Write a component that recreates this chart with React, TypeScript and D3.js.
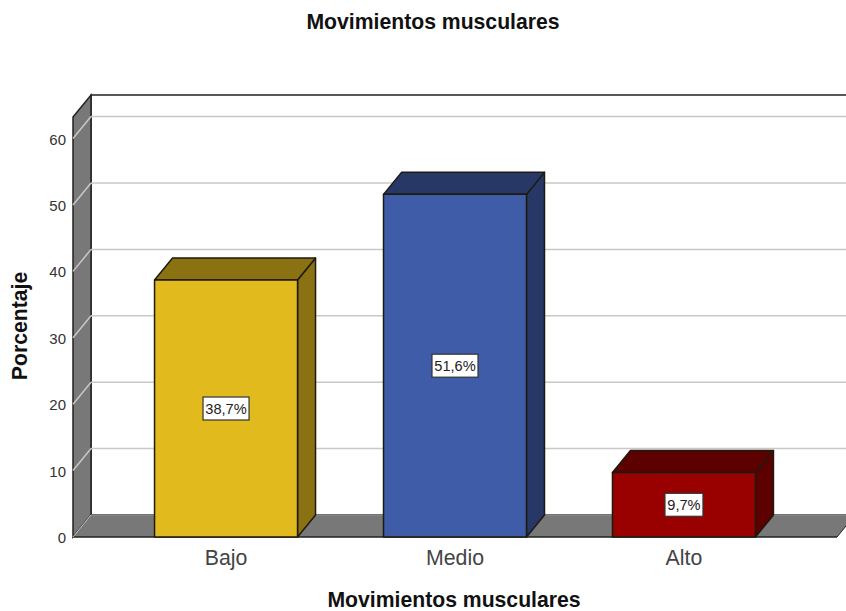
import { useRef, useEffect } from "react";
import * as d3 from "d3";

const categories = ["Bajo", "Medio", "Alto"];
const values = [38.7, 51.6, 9.7];
const valueLabels = ["38,7%", "51,6%", "9,7%"];
const yTicks = [0, 10, 20, 30, 40, 50, 60];
const frontColors = ["#e1bb1e", "#3f5ca8", "#990000"];
const sideColors = ["#8a7212", "#273866", "#5c0000"];

const FONT = "'Liberation Sans', Arial, sans-serif";
const WIDTH = 846;
const HEIGHT = 611;

export default function App() {
  const svgRef = useRef<SVGSVGElement>(null);

  useEffect(() => {
    if (!svgRef.current) return;
    const svg = d3.select(svgRef.current);
    svg.selectAll("*").remove();

    // depth of the fake 3D box
    const dx = 18;
    const dy = -22;
    const left = 73;
    const right = 837;

    const y = d3.scaleLinear().domain([0, 63.25]).range([537, 117]);
    const x = d3
      .scaleBand<string>()
      .domain(categories)
      .range([111.5, 798.5])
      .paddingInner(0.3755)
      .paddingOuter(0.188);

    const poly = (pts: [number, number][]) => `M${pts.join("L")}Z`;
    const y0 = y(0);
    const yTop = y(63.25);

    // Back wall
    svg.append("rect")
      .attr("x", left + dx)
      .attr("y", yTop + dy)
      .attr("width", WIDTH - left - dx + 5)
      .attr("height", y0 - yTop)
      .attr("fill", "#fff")
      .attr("stroke", "#222")
      .attr("stroke-width", 1.5);

    // Left wall
    svg.append("path")
      .attr("d", poly([[left, yTop], [left + dx, yTop + dy], [left + dx, y0 + dy], [left, y0]]))
      .attr("fill", "#787878")
      .attr("stroke", "#222")
      .attr("stroke-width", 1.5);

    // Floor
    svg.append("path")
      .attr("d", poly([[left, y0], [left + dx, y0 + dy], [right + dx, y0 + dy], [right, y0]]))
      .attr("fill", "#787878")
      .attr("stroke", "none");
    svg.append("line")
      .attr("x1", left + dx).attr("x2", WIDTH)
      .attr("y1", y0 + dy).attr("y2", y0 + dy)
      .attr("stroke", "#8f8f8f");
    svg.append("line")
      .attr("x1", left).attr("x2", right)
      .attr("y1", y0).attr("y2", y0)
      .attr("stroke", "#222")
      .attr("stroke-width", 1.5);
    svg.append("line")
      .attr("x1", right).attr("x2", right + dx)
      .attr("y1", y0).attr("y2", y0 + dy)
      .attr("stroke", "#222");

    // Grid
    const grid = svg.append("g").attr("fill", "none").attr("stroke", "#c8c8c8").attr("stroke-width", 1.5);
    yTicks.slice(1).forEach((t) => {
      grid.append("line")
        .attr("x1", left + dx).attr("x2", WIDTH)
        .attr("y1", y(t) + dy).attr("y2", y(t) + dy);
      grid.append("line")
        .attr("x1", left).attr("x2", left + dx)
        .attr("y1", y(t)).attr("y2", y(t) + dy);
    });
    svg.append("line")
      .attr("x1", left).attr("x2", left + dx)
      .attr("y1", y0).attr("y2", y0 + dy)
      .attr("stroke", "#c8c8c8");

    // Bars
    const bars = svg.selectAll("g.bar").data(values).join("g").attr("class", "bar")
      .attr("stroke", "#1f1a10")
      .attr("stroke-width", 1.5)
      .attr("stroke-linejoin", "round");

    bars.append("path")
      .attr("d", (d, i) => {
        const x1 = x(categories[i])! + x.bandwidth();
        return poly([[x1, y(d)], [x1 + dx, y(d) + dy], [x1 + dx, y0 + dy], [x1, y0]]);
      })
      .attr("fill", (_, i) => sideColors[i]);
    bars.append("path")
      .attr("d", (d, i) => {
        const x0 = x(categories[i])!;
        const x1 = x0 + x.bandwidth();
        return poly([[x0, y(d)], [x0 + dx, y(d) + dy], [x1 + dx, y(d) + dy], [x1, y(d)]]);
      })
      .attr("fill", (_, i) => sideColors[i]);
    bars.append("rect")
      .attr("x", (_, i) => x(categories[i])!)
      .attr("y", (d) => y(d))
      .attr("width", x.bandwidth())
      .attr("height", (d) => y0 - y(d))
      .attr("fill", (_, i) => frontColors[i]);

    // Value labels
    const labelW = [46, 46, 38];
    values.forEach((d, i) => {
      const cx = x(categories[i])! + x.bandwidth() / 2;
      const cy = (y(d) + y0) / 2;
      svg.append("rect")
        .attr("x", cx - labelW[i] / 2)
        .attr("y", cy - 11.5)
        .attr("width", labelW[i])
        .attr("height", 23)
        .attr("fill", "#fff")
        .attr("stroke", "#333")
        .attr("stroke-width", 1.2);
      svg.append("text")
        .attr("x", cx)
        .attr("y", cy + 5)
        .attr("text-anchor", "middle")
        .attr("font-family", FONT)
        .attr("font-size", 14.6)
        .attr("fill", "#222")
        .text(valueLabels[i]);
    });

    // Y tick labels
    svg.append("g")
      .selectAll("text")
      .data(yTicks)
      .join("text")
      .attr("x", 66)
      .attr("y", (d) => y(d) + 6)
      .attr("text-anchor", "end")
      .attr("font-family", FONT)
      .attr("font-size", 15)
      .attr("fill", "#333")
      .text((d) => d);

    // X tick labels
    svg.append("g")
      .selectAll("text")
      .data(categories)
      .join("text")
      .attr("x", (d) => x(d)! + x.bandwidth() / 2)
      .attr("y", 565)
      .attr("text-anchor", "middle")
      .attr("font-family", FONT)
      .attr("font-size", 21.3)
      .attr("fill", "#444")
      .text((d) => d);

    // Titles
    const title = (s: string, tx: number, ty: number, rot = 0) =>
      svg.append("text")
        .attr("transform", `translate(${tx},${ty}) rotate(${rot})`)
        .attr("text-anchor", "middle")
        .attr("font-family", FONT)
        .attr("font-size", 21.2)
        .attr("font-weight", "bold")
        .attr("fill", "#111")
        .text(s);
    title("Movimientos musculares", 433, 29);
    title("Movimientos musculares", 454, 607);
    title("Porcentaje", 27, 326, -90);
  }, []);

  return (
    <svg
      ref={svgRef}
      width={WIDTH}
      height={HEIGHT}
      style={{ position: "absolute", left: 0, top: 0, background: "#fff" }}
    />
  );
}
